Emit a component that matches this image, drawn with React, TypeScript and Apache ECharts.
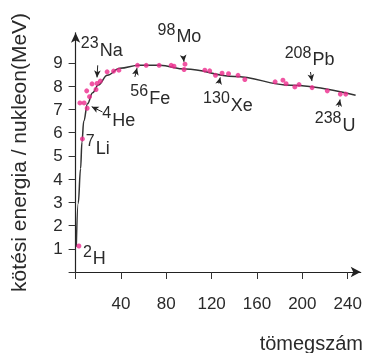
import React, { useEffect, useRef } from "react";
import * as echarts from "echarts";

// Pink measured nuclides: [mass number, binding energy per nucleon (MeV)]
const nuclidePoints: number[][] = [
  [2.9, 1.12],
  [6.0, 5.73],
  [3.8, 7.28], [7.5, 7.28],
  [10.2, 7.05],
  [12.3, 7.55],
  [9.8, 7.8],
  [14.5, 8.1],
  [18.0, 7.86],
  [18.9, 8.12],
  [21.8, 8.22],
  [27.8, 8.62],
  [33.5, 8.65],
  [38.2, 8.69],
  [54.6, 8.9], [62.3, 8.9], [73.7, 8.9], [84.3, 8.9], [86.8, 8.86],
  [96.5, 8.95], [95.7, 8.72],
  [114, 8.69], [118.3, 8.66], [123.4, 8.47], [129.2, 8.56], [134.9, 8.54],
  [143.3, 8.47], [149.3, 8.29],
  [176, 8.19], [182.9, 8.26], [185.7, 8.11], [193.4, 7.97], [197.1, 8.07],
  [208.6, 7.94], [222, 7.8], [233.5, 7.66], [238.3, 7.66],
];

// Smooth trend curve
const curvePoints: number[][] = [
  [0.6, 1.09], [2.3, 2.96], [4.4, 4.45], [5.6, 5.6], [7.2, 6.5],
  [10.5, 7.25], [15, 7.72], [20, 8.05], [28, 8.47], [39, 8.77],
  [56, 8.9], [74, 8.9], [97, 8.74], [140, 8.42], [190, 8.04], [247, 7.61],
];

// Annotation arrows: [fromX, fromY, toX, toY]
const arrows: number[][] = [
  [19.5, 8.9, 18.9, 8.38],
  [23.7, 6.89, 14.2, 7.12],
  [52.3, 8.4, 54.2, 8.78],
  [95.1, 9.26, 95.6, 9.05],
  [126.3, 8.12, 127.6, 8.38],
  [207.2, 8.61, 208.5, 8.22],
  [232, 7.11, 233.3, 7.43],
];

// Labels: mass number, symbol, anchor (left-centre of symbol) in data units
const labelMass = ["2", "7", "4", "23", "56", "98", "130", "208", "238"];
const labelSymbol = ["H", "Li", "He", "Na", "Fe", "Mo", "Xe", "Pb", "U"];
const labelAnchor: number[][] = [
  [15.2, 0.6], [17.7, 5.36], [32.3, 6.55], [21.2, 9.56], [64.9, 7.51],
  [88.9, 10.16], [136.9, 7.21], [208.9, 9.17], [235.4, 6.33],
];

const xTicks = [0, 40, 80, 120, 160, 200, 240];
const xLabels = [40, 80, 120, 160, 200, 240];
const yTicks = [0, 1, 2, 3, 4, 5, 6, 7, 8, 9];
const yLabels = [1, 2, 3, 4, 5, 6, 7, 8, 9];

const yName = "kötési energia / nukleon(MeV)";
const xName = "tömegszám";

const FONT = "'Liberation Sans', Arial, Helvetica, sans-serif";
const TEXT = "#2a2a2a";

export default function App() {
  const ref = useRef<HTMLDivElement>(null);
  useEffect(() => {
    if (!ref.current) return;
    const chart = echarts.init(ref.current, null, { renderer: "svg" });
    chart.setOption({
      animation: false,
      grid: { left: 67.3, right: 5.3, top: 32.8, bottom: 81, containLabel: false },
      xAxis: {
        type: "value",
        min: 0,
        max: 251.5,
        interval: 40,
        splitLine: { show: false },
        axisLine: {
          show: true,
          onZero: false,
          symbol: ["none", "arrow"],
          symbolSize: [8, 10],
          lineStyle: { color: "#222", width: 1.2 },
        },
        axisTick: { show: true, length: 7, customValues: xTicks, lineStyle: { color: "#333", width: 1 } },
        axisLabel: {
          customValues: xLabels,
          fontSize: 17,
          lineHeight: 17,
          color: TEXT,
          fontFamily: FONT,
          margin: 23,
        },
      },
      yAxis: {
        type: "value",
        min: 0,
        max: 10.3,
        interval: 1,
        splitLine: { show: false },
        axisLine: {
          show: true,
          onZero: false,
          symbol: ["none", "arrow"],
          symbolSize: [7, 10],
          lineStyle: { color: "#222", width: 1.2 },
        },
        axisTick: { show: true, length: 7, customValues: yTicks, lineStyle: { color: "#333", width: 1 } },
        axisLabel: {
          customValues: yLabels,
          fontSize: 17,
          color: TEXT,
          fontFamily: FONT,
          margin: 13,
        },
        name: yName,
        nameLocation: "middle",
        nameGap: 46.6,
        nameRotate: 90,
        nameTextStyle: { fontSize: 21, color: TEXT, fontFamily: FONT },
      },
      series: [
        {
          type: "line",
          data: curvePoints,
          smooth: 0.4,
          smoothMonotone: "x",
          showSymbol: false,
          symbol: "none",
          lineStyle: { color: "#333", width: 1.5 },
          z: 2,
          silent: true,
        },
        {
          type: "scatter",
          data: nuclidePoints,
          symbolSize: 5,
          itemStyle: { color: "#ec2b8c" },
          z: 3,
          markLine: {
            silent: true,
            symbol: ["none", "arrow"],
            symbolSize: [5, 7],
            label: { show: false },
            lineStyle: { color: "#222", width: 1, type: "solid" },
            data: arrows.map((a) => [{ coord: [a[0], a[1]] }, { coord: [a[2], a[3]] }]),
          },
        },
      ],
    });

    const graphics: any[] = [];
    labelAnchor.forEach((p, i) => {
      const px = chart.convertToPixel({ xAxisIndex: 0, yAxisIndex: 0 }, p) as number[];
      graphics.push({
        type: "text",
        x: px[0] - 1,
        y: px[1] - 7,
        style: {
          text: labelMass[i],
          fontSize: 16,
          fontFamily: FONT,
          fill: TEXT,
          align: "right",
          verticalAlign: "middle",
        },
      });
      graphics.push({
        type: "text",
        x: px[0],
        y: px[1],
        style: {
          text: labelSymbol[i],
          fontSize: 18,
          fontFamily: FONT,
          fill: TEXT,
          align: "left",
          verticalAlign: "middle",
        },
      });
    });
    graphics.push({
      type: "text",
      right: 3,
      top: 333,
      style: {
        text: xName,
        fontSize: 20,
        fontFamily: FONT,
        fill: TEXT,
      },
    });
    chart.setOption({ graphic: graphics });

    return () => chart.dispose();
  }, []);
  return (
    <div
      ref={ref}
      style={{ position: "fixed", left: 0, top: 0, width: 366, height: 353 }}
    />
  );
}
